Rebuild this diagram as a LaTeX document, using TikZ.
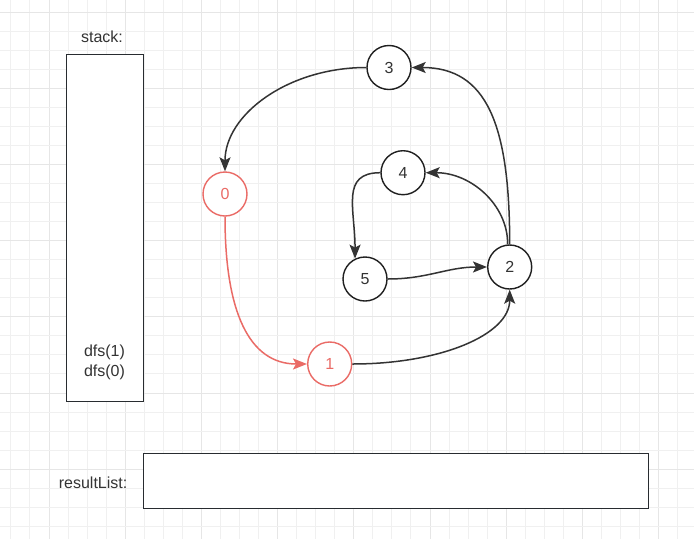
\documentclass[tikz,border=0pt]{standalone}
\usepackage{fontspec}
\setmainfont{Liberation Sans}
\usetikzlibrary{arrows.meta}
\definecolor{gminor}{RGB}{240,240,240}
\definecolor{gmajor}{RGB}{230,230,230}
\definecolor{ink}{RGB}{51,51,51}
\definecolor{redc}{RGB}{234,107,102}
\definecolor{boxc}{RGB}{40,44,48}
\begin{document}
\begin{tikzpicture}[x=1pt,y=-1pt,
  vert/.style={circle,draw=black!88,fill=white,line width=1.4pt,minimum size=44pt,inner sep=0pt,font=\fontsize{16}{18}\selectfont,text=ink},
  redv/.style={vert,draw=redc,text=redc},
  edge/.style={draw=ink,line width=1.5pt,-{Stealth[length=14pt,width=11pt,inset=3pt]}},
  rededge/.style={edge,draw=redc},
  lbl/.style={font=\fontsize{16}{20}\selectfont,text=ink,inner sep=0pt},
  panel/.style={draw=boxc,line width=1.3pt,fill=white,inner sep=0pt}]
\useasboundingbox (0,0) rectangle (694,539);
\fill[white] (0,0) rectangle (694,539);
% grid
\foreach \i in {-2,...,34} {
  \pgfmathsetmacro{\gx}{floor(49+19.05*\i)+0.5}
  \pgfmathtruncatemacro{\gm}{mod(\i+8,4)}
  \ifnum\gm=0 \draw[gmajor,line width=1pt] (\gx,0) -- (\gx,539);
  \else \draw[gminor,line width=1pt] (\gx,0) -- (\gx,539); \fi
}
\foreach \j in {0,...,28} {
  \pgfmathsetmacro{\gy}{floor(12+19.05*\j)+0.5}
  \pgfmathtruncatemacro{\gm}{mod(\j,4)}
  \ifnum\gm=0 \draw[gmajor,line width=1pt] (0,\gy) -- (694,\gy);
  \else \draw[gminor,line width=1pt] (0,\gy) -- (694,\gy); \fi
}
% stack
\node[lbl] (stk) at (102,37) {stack:};
\node[panel,minimum width=77pt,minimum height=347pt,anchor=north west] (stackbox) at (66,54) {};
\node[lbl,align=center] (dfs) at (104.5,362) {dfs(1)\\dfs(0)};
% result list
\node[panel,minimum width=505pt,minimum height=55pt,anchor=north west] (rbox) at (143,453) {};
\node[lbl,anchor=east] (rl) at (127.5,483) {resultList:};
% vertices
\node[vert] (n3) at (389,67.5) {3};
\node[vert] (n4) at (403,172.7) {4};
\node[redv] (n0) at (225,194) {0};
\node[vert] (n5) at (365,279) {5};
\node[vert] (n2) at (509.7,267) {2};
\node[redv] (n1) at (329.7,364) {1};
% edges
\draw[edge] (n3.west) .. controls +(-78,0) and +(0,-57) .. (n0.north);
\draw[rededge] (n0.south) .. controls +(0,95) and +(-58,0) .. (n1.west);
\draw[edge] (n1.east) .. controls +(88,0) and +(0,45) .. (n2.south);
\draw[edge] (n5.east) .. controls +(40,0) and +(-40,0) .. (n2.west);
\draw[edge] (n2.95) .. controls +(0,-40) and +(45,0) .. (n4.east);
\draw[edge] (n2.north) .. controls +(0,-120) and +(75,0) .. (n3.east);
\draw[edge] (n4.west) .. controls +(-40,0) and +(0,-50) .. (n5.116);
\end{tikzpicture}
\end{document}
